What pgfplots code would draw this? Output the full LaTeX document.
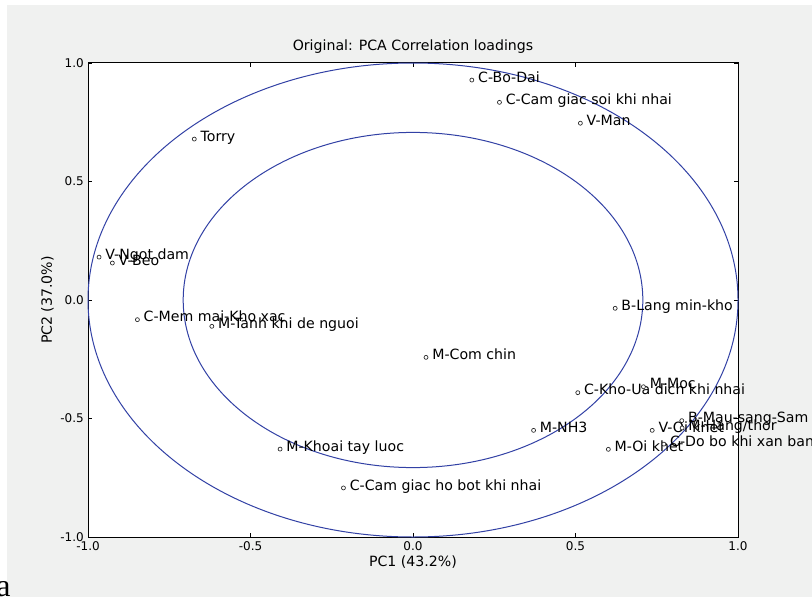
\documentclass[border=0pt]{standalone}
\usepackage{pgfplots}
\pgfplotsset{compat=1.18}
\usepackage{pgfplotstable}
\usepackage{fontspec}
\setmainfont{DejaVu Sans}
\newfontfamily\serifa{Liberation Serif}
\definecolor{figbg}{RGB}{240,241,240}
\definecolor{circ}{RGB}{50,65,165}

\pgfplotstableread[col sep=comma]{
x,y,label
0.181,0.928,C-Bo-Dai
0.266,0.834,C-Cam giac soi khi nhai
0.515,0.746,V-Man
-0.673,0.679,Torry
-0.966,0.181,V-Ngot dam
-0.925,0.156,V-Beo
-0.848,-0.083,C-Mem mai-Kho xac
-0.619,-0.111,M-Tanh khi de nguoi
0.622,-0.035,B-Lang min-kho
0.040,-0.242,M-Com chin
0.507,-0.391,C-Kho-Ua dich khi nhai
0.709,-0.366,M-Moc
0.371,-0.550,M-NH3
0.736,-0.550,V-Oi khet
0.601,-0.630,M-Oi khet
-0.409,-0.629,M-Khoai tay luoc
-0.214,-0.793,C-Cam giac ho bot khi nhai
0.827,-0.509,B-Mau-sang-Sam
0.828,-0.540,M-Hang/thor
0.772,-0.608,C-Do bo khi xan ban
}\loadings

\begin{document}
\begin{tikzpicture}
\useasboundingbox (0,0) rectangle (609pt,447.75pt);
\clip (0,0) rectangle (609pt,447.75pt);
\fill[white] (0,0) rectangle (609pt,447.75pt);
\fill[figbg] (5.25pt,0) rectangle (609pt,444pt);
\node[anchor=base west, inner sep=0pt, font=\serifa\fontsize{24}{24}\selectfont] at (-3pt,0.5pt) {a};
\begin{axis}[
  at={(66pt,45pt)}, anchor=south west,
  width=487.5pt, height=355.5pt, scale only axis,
  xmin=-1, xmax=1, ymin=-1, ymax=1,
  axis background/.style={fill=white},
  clip=false,
  xtick={-1,-0.5,0,0.5,1}, ytick={-1,-0.5,0,0.5,1},
  xticklabels={-1.0,-0.5,0.0,0.5,1.0},
  yticklabels={-1.0,-0.5,0.0,0.5,1.0},
  tick align=inside, major tick length=3pt,
  tick style={black, line width=0.5pt},
  axis line style={black, line width=0.75pt},
  ticklabel style={font=\fontsize{9}{10}\selectfont},
  xticklabel style={anchor=north, inner sep=0pt, yshift=-3pt},
  yticklabel style={anchor=east, inner sep=0pt, xshift=-3pt},
  title={Original: PCA Correlation loadings},
  title style={at={(axis description cs:0.5,1.0105)}, anchor=base, inner sep=0pt, font=\fontsize{10.6}{12}\selectfont},
  xlabel={PC1 (43.2\%)},
  xlabel style={at={(axis description cs:0.5,-0.0612)}, anchor=base, inner sep=0pt, font=\fontsize{10.6}{12}\selectfont},
  ylabel={PC2 (37.0\%)},
  ylabel style={at={(axis description cs:-0.0554,0.5)}, rotate=0, anchor=base, inner sep=0pt, font=\fontsize{10.6}{12}\selectfont},
]
\draw[circ, line width=0.75pt] (axis cs:0,0) ellipse [x radius=1, y radius=1];
\draw[circ, line width=0.75pt] (axis cs:0,0) ellipse [x radius=0.7071, y radius=0.7071];
\addplot[only marks, mark=*, mark size=1.5pt,
  mark options={draw=black!85, fill=white, line width=0.5pt},
  nodes near coords, point meta=explicit symbolic,
  every node near coord/.append style={anchor=base west, inner sep=0pt, xshift=4.5pt, yshift=-1.6pt, font=\fontsize{10.6}{12}\selectfont, text=black}]
  table[x=x, y=y, meta=label] {\loadings};
\end{axis}
\end{tikzpicture}
\end{document}
